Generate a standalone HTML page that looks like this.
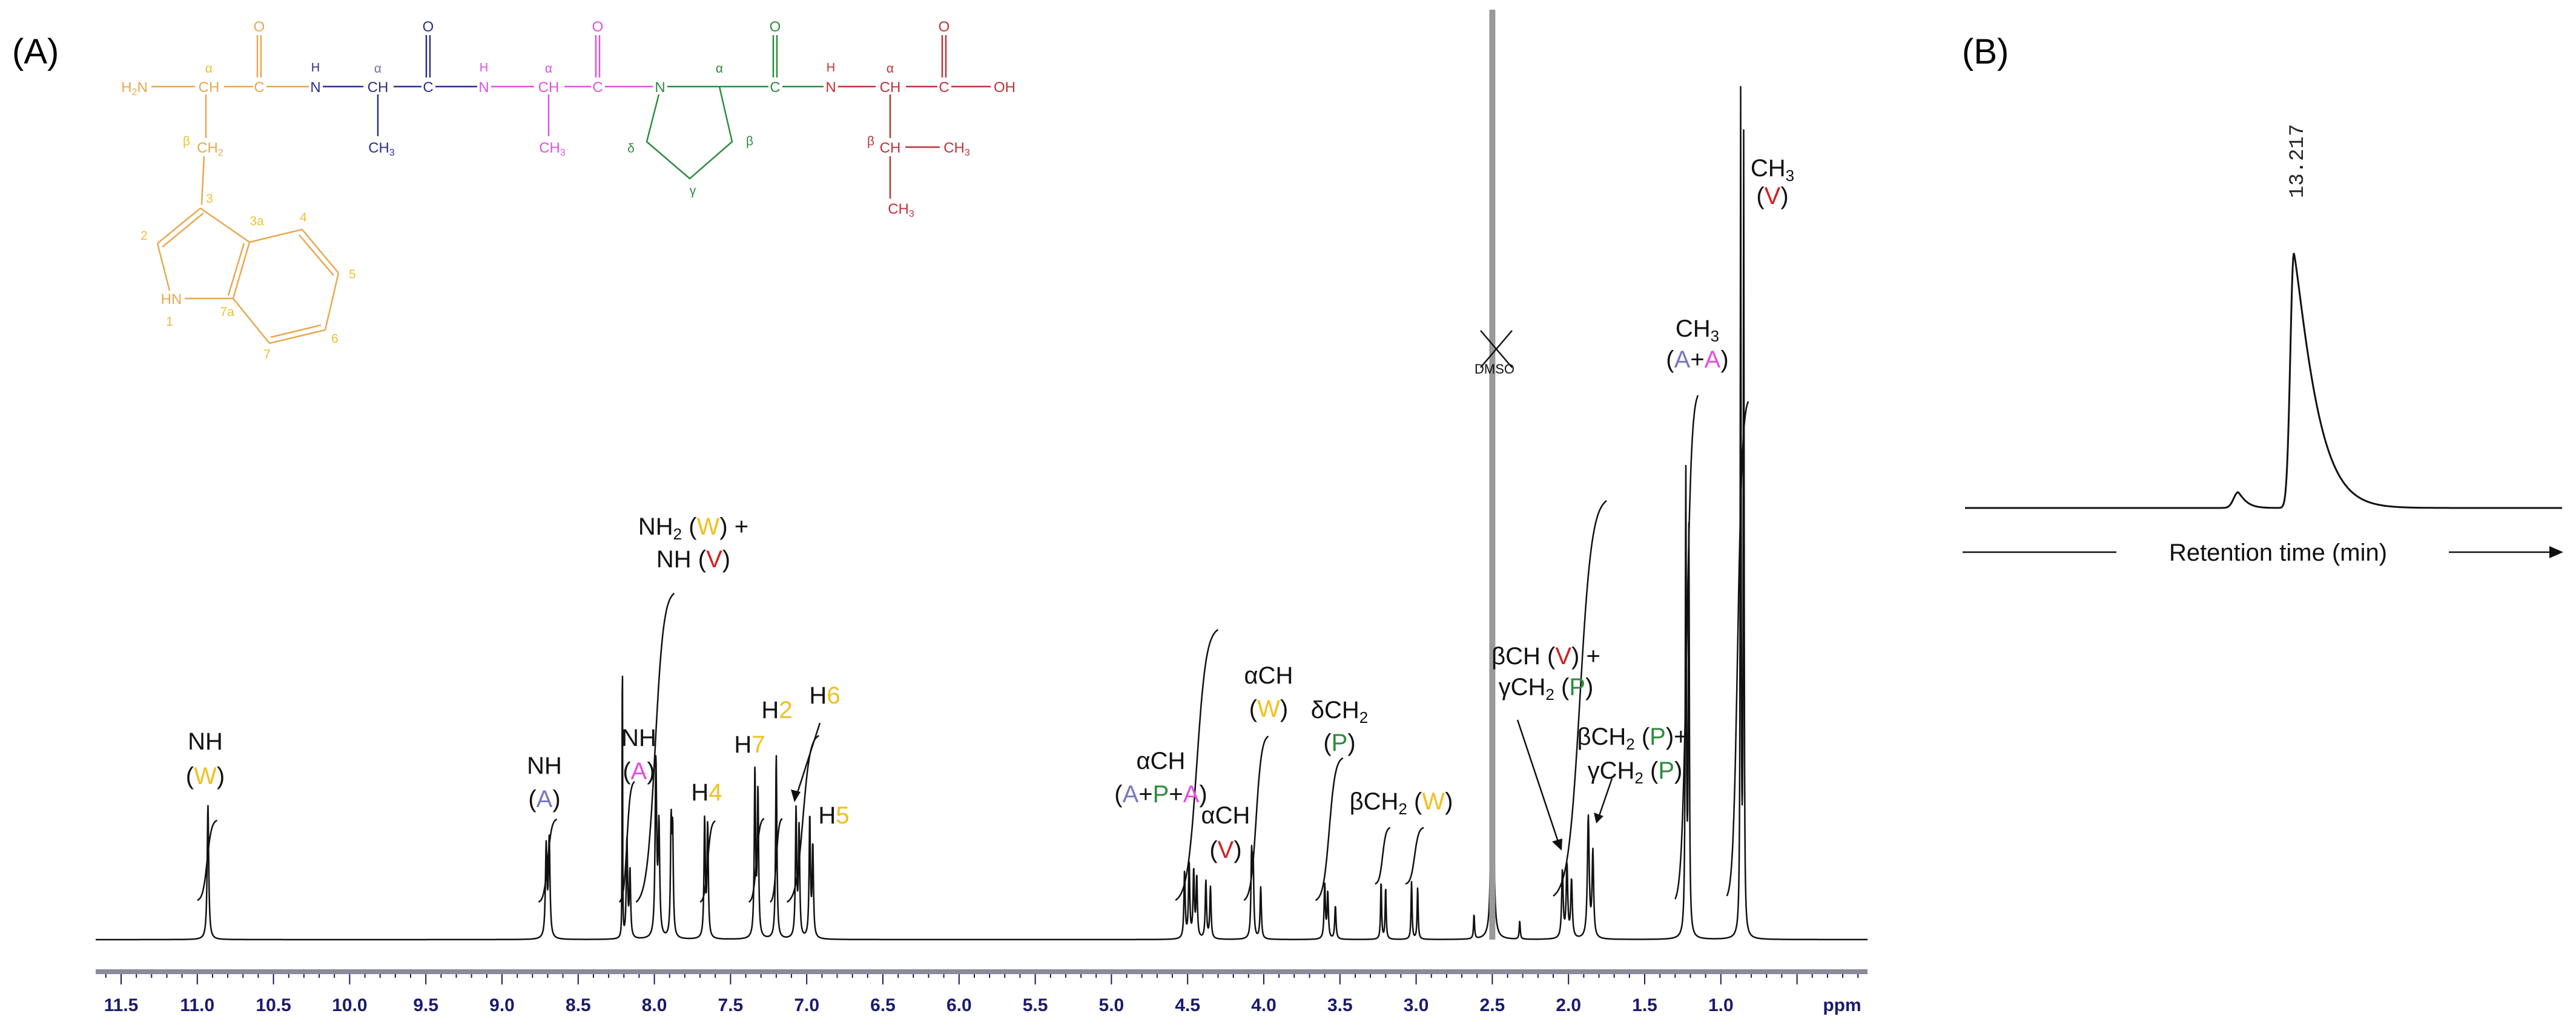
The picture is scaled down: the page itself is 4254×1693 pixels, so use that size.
<!DOCTYPE html>
<html><head><meta charset="utf-8"><style>
html,body{margin:0;padding:0;background:#fff;}
svg{display:block;font-family:"Liberation Sans",sans-serif;}
</style></head><body>
<svg id="fig" width="4254" height="1693" viewBox="0 0 4254 1693" xmlns="http://www.w3.org/2000/svg">
<rect width="4254" height="1693" fill="#fff"/>
<text x="20" y="105" font-size="58">(A)</text>
<text x="3240" y="105" font-size="58">(B)</text>

<g id="structure" font-size="24" stroke-width="2.5" text-anchor="middle">
  <g fill="none">
    <line x1="250" y1="143" x2="322" y2="143" stroke="#E8A850"/>
    <line x1="370" y1="143" x2="418" y2="143" stroke="#E8A850"/>
    <line x1="440" y1="143" x2="510" y2="143" stroke="#E8A850"/>
    <line x1="533" y1="143" x2="600" y2="143" stroke="#2B2F8C"/>
    <line x1="650" y1="143" x2="696" y2="143" stroke="#2B2F8C"/>
    <line x1="719" y1="143" x2="788" y2="143" stroke="#2B2F8C"/>
    <line x1="811" y1="143" x2="882" y2="143" stroke="#E050E0"/>
    <line x1="932" y1="143" x2="976" y2="143" stroke="#E050E0"/>
    <line x1="999" y1="143" x2="1078" y2="143" stroke="#E050E0"/>
    <line x1="1102" y1="143" x2="1269" y2="143" stroke="#2E8B3E"/>
    <line x1="1292" y1="143" x2="1360" y2="143" stroke="#2E8B3E"/>
    <line x1="1384" y1="143" x2="1446" y2="143" stroke="#C0303A"/>
    <line x1="1496" y1="143" x2="1548" y2="143" stroke="#C0303A"/>
    <line x1="1571" y1="143" x2="1636" y2="143" stroke="#C0303A"/>
    <g stroke="#E8A850"><line x1="425" y1="58" x2="425" y2="128"/><line x1="431" y1="58" x2="431" y2="128"/></g>
    <g stroke="#2B2F8C"><line x1="704" y1="58" x2="704" y2="128"/><line x1="710" y1="58" x2="710" y2="128"/></g>
    <g stroke="#E050E0"><line x1="984" y1="58" x2="984" y2="128"/><line x1="990" y1="58" x2="990" y2="128"/></g>
    <g stroke="#2E8B3E"><line x1="1277" y1="58" x2="1277" y2="128"/><line x1="1283" y1="58" x2="1283" y2="128"/></g>
    <g stroke="#C0303A"><line x1="1556" y1="58" x2="1556" y2="128"/><line x1="1562" y1="58" x2="1562" y2="128"/></g>
    <line x1="624" y1="156" x2="624" y2="225" stroke="#2B2F8C"/>
    <line x1="906" y1="156" x2="906" y2="225" stroke="#E050E0"/>
    <line x1="1470" y1="156" x2="1470" y2="228" stroke="#C0303A"/>
    <line x1="1495" y1="243" x2="1552" y2="243" stroke="#C0303A"/>
    <line x1="1470" y1="258" x2="1470" y2="328" stroke="#C0303A"/>
    <line x1="340" y1="156" x2="340" y2="228" stroke="#E8A850"/>
    <line x1="337" y1="258" x2="333" y2="338" stroke="#E8A850"/>
    <polyline points="1088,156 1068,234 1139,295 1209,234 1188,143" stroke="#2E8B3E"/>
    <g stroke="#E8A850">
      <line x1="331" y1="344" x2="260" y2="402"/><line x1="336" y1="352" x2="268" y2="408"/>
      <line x1="260" y1="402" x2="280" y2="480"/>
      <line x1="305" y1="493" x2="385" y2="493"/>
      <line x1="385" y1="493" x2="412" y2="400"/><line x1="377" y1="488" x2="403" y2="402"/>
      <line x1="412" y1="400" x2="331" y2="344"/>
      <line x1="412" y1="400" x2="499" y2="379"/>
      <line x1="499" y1="379" x2="559" y2="451"/><line x1="494" y1="388" x2="551" y2="455"/>
      <line x1="559" y1="451" x2="537" y2="545"/>
      <line x1="537" y1="545" x2="445" y2="567"/><line x1="530" y1="537" x2="447" y2="557"/>
      <line x1="445" y1="567" x2="385" y2="493"/>
    </g>
  </g>
  <g stroke="none">
    <g fill="#E8A850"><text x="222" y="152">H<tspan font-size="16" dy="5">2</tspan><tspan dy="-5">N</tspan></text><text x="345" y="152">CH</text><text x="428" y="152">C</text><text x="428" y="52">O</text><text x="347" y="252">CH<tspan font-size="16" dy="5">2</tspan></text></g>
    <g fill="#F0C030" font-size="21"><text x="345" y="120">α</text><text x="308" y="240">β</text><text x="346" y="335">3</text><text x="424" y="372">3a</text><text x="501" y="366">4</text><text x="238" y="396">2</text><text x="582" y="460">5</text><text x="280" y="538">1</text><text x="375" y="522">7a</text><text x="553" y="566">6</text><text x="441" y="592">7</text></g>
    <text x="283" y="502" fill="#E8A850">HN</text>
    <g fill="#2B2F8C"><text x="521" y="152">N</text><text x="521" y="118" font-size="20">H</text><text x="624" y="152">CH</text><text x="707" y="152">C</text><text x="707" y="52">O</text><text x="630" y="252">CH<tspan font-size="16" dy="5">3</tspan></text></g>
    <text x="624" y="120" font-size="21" fill="#7070B0">α</text>
    <g fill="#E050E0"><text x="799" y="152">N</text><text x="799" y="118" font-size="20">H</text><text x="906" y="152">CH</text><text x="987" y="152">C</text><text x="987" y="52">O</text><text x="912" y="252">CH<tspan font-size="16" dy="5">3</tspan></text><text x="906" y="120" font-size="21">α</text></g>
    <g fill="#2E8B3E"><text x="1090" y="152">N</text><text x="1280" y="152">C</text><text x="1280" y="52">O</text><text x="1188" y="120" font-size="21">α</text><text x="1042" y="252" font-size="21">δ</text><text x="1144" y="322" font-size="21">γ</text><text x="1238" y="240" font-size="21">β</text></g>
    <g fill="#C0303A"><text x="1372" y="152">N</text><text x="1372" y="118" font-size="20">H</text><text x="1470" y="152">CH</text><text x="1559" y="152">C</text><text x="1559" y="52">O</text><text x="1659" y="152">OH</text><text x="1470" y="120" font-size="21">α</text><text x="1438" y="240" font-size="21">β</text><text x="1470" y="252">CH</text><text x="1580" y="252">CH<tspan font-size="16" dy="5">3</tspan></text><text x="1488" y="353">CH<tspan font-size="16" dy="5">3</tspan></text></g>
  </g>
</g>

<g id="axis"></g>
<g id="spectrum"></g>
<g id="integrals"></g>

<g id="labels" font-size="40" text-anchor="middle" fill="#111">
  <text x="339" y="1238">NH</text>
  <text x="339" y="1295">(<tspan fill="#F0C020">W</tspan>)</text>
  <text x="899" y="1278">NH</text>
  <text x="899" y="1333">(<tspan fill="#7878C0">A</tspan>)</text>
  <text x="1055" y="1232">NH</text>
  <text x="1055" y="1287">(<tspan fill="#E050E0">A</tspan>)</text>
  <text x="1145" y="883">NH<tspan font-size="26" dy="8">2</tspan><tspan dy="-8"> (</tspan><tspan fill="#F0C020">W</tspan>) +</text>
  <text x="1145" y="937">NH (<tspan fill="#D02020">V</tspan>)</text>
  <text x="1167" y="1322">H<tspan fill="#F0C020">4</tspan></text>
  <text x="1238" y="1243">H<tspan fill="#F0C020">7</tspan></text>
  <text x="1283" y="1186">H<tspan fill="#F0C020">2</tspan></text>
  <text x="1362" y="1162">H<tspan fill="#F0C020">6</tspan></text>
  <text x="1377" y="1360">H<tspan fill="#F0C020">5</tspan></text>
  <text x="1917" y="1270">αCH</text>
  <text x="1917" y="1325">(<tspan fill="#7878C0">A</tspan>+<tspan fill="#2E8B3E">P</tspan>+<tspan fill="#E050E0">A</tspan>)</text>
  <text x="2024" y="1360">αCH</text>
  <text x="2024" y="1417">(<tspan fill="#D02020">V</tspan>)</text>
  <text x="2095" y="1129">αCH</text>
  <text x="2095" y="1184">(<tspan fill="#F0C020">W</tspan>)</text>
  <text x="2212" y="1186">δCH<tspan font-size="26" dy="8">2</tspan></text>
  <text x="2212" y="1240">(<tspan fill="#2E8B3E">P</tspan>)</text>
  <text x="2314" y="1337">βCH<tspan font-size="26" dy="8">2</tspan><tspan dy="-8"> (</tspan><tspan fill="#F0C020">W</tspan>)</text>
  <text x="2553" y="1097">βCH (<tspan fill="#D02020">V</tspan>) +</text>
  <text x="2553" y="1148">γCH<tspan font-size="26" dy="8">2</tspan><tspan dy="-8"> (</tspan><tspan fill="#2E8B3E">P</tspan>)</text>
  <text x="2696" y="1230">βCH<tspan font-size="26" dy="8">2</tspan><tspan dy="-8"> (</tspan><tspan fill="#2E8B3E">P</tspan>)+</text>
  <text x="2700" y="1286">γCH<tspan font-size="26" dy="8">2</tspan><tspan dy="-8"> (</tspan><tspan fill="#2E8B3E">P</tspan>)</text>
  <text x="2803" y="556">CH<tspan font-size="26" dy="8">3</tspan></text>
  <text x="2803" y="607">(<tspan fill="#7878C0">A</tspan>+<tspan fill="#E050E0">A</tspan>)</text>
  <text x="2927" y="291">CH<tspan font-size="26" dy="8">3</tspan></text>
  <text x="2927" y="337">(<tspan fill="#D02020">V</tspan>)</text>
  <text x="2468" y="617" font-size="22">DMSO</text>
  <g stroke="#111" stroke-width="2.5" fill="none">
    <line x1="2445" y1="546" x2="2497" y2="607"/><line x1="2497" y1="546" x2="2445" y2="607"/>
    <line x1="1354" y1="1194" x2="1316" y2="1312"/>
    <line x1="2506" y1="1189" x2="2574" y2="1393"/>
    <line x1="2662" y1="1286" x2="2641" y2="1347"/>
  </g>
  <polygon points="1312,1325 1306,1304 1322,1308" fill="#111"/>
  <polygon points="2579,1405 2563,1390 2580,1385" fill="#111"/>
  <polygon points="2636,1360 2632,1342 2648,1348" fill="#111"/>
</g>

<g id="chrom"></g>
<text transform="translate(3803,266) rotate(-90)" font-family="Liberation Mono,monospace" font-size="34" text-anchor="middle" fill="#222">13.217</text>
<g>
  <line x1="3241" y1="912" x2="3495" y2="912" stroke="#111" stroke-width="2.5"/>
  <text x="3762" y="926" font-size="40" text-anchor="middle" fill="#111">Retention time (min)</text>
  <line x1="4044" y1="912" x2="4215" y2="912" stroke="#111" stroke-width="2.5"/>
  <polygon points="4233,912 4210,902 4210,922" fill="#111"/>
</g>
</svg>

<script>
// NMR peak data (ppm, peak height above baseline, half-width ppm)
const peakPpm    = [10.93, 8.71, 8.69, 8.21, 8.18, 8.16, 7.99, 7.97, 7.89, 7.88, 7.67, 7.65, 7.34, 7.32, 7.20, 7.07, 7.05, 6.98, 6.96, 4.52, 4.49, 4.46, 4.44, 4.38, 4.35, 4.08, 4.07, 4.02, 3.60, 3.58, 3.53, 3.23, 3.20, 3.03, 2.99, 2.62, 2.50, 2.32, 2.04, 2.01, 1.98, 1.87, 1.84, 1.23, 1.21, 0.87, 0.85];
const peakHeight = [222, 150, 160, 596, 165, 110, 290, 180, 180, 165, 195, 185, 275, 240, 305, 210, 180, 200, 150, 110, 125, 110, 100, 95, 85, 130, 120, 85, 90, 75, 55, 95, 85, 95, 85, 40, 1536, 30, 110, 120, 95, 200, 140, 760, 660, 1380, 1310];
const peakWidth  = [0.006, 0.006, 0.006, 0.0015, 0.005, 0.005, 0.006, 0.006, 0.005, 0.005, 0.005, 0.005, 0.005, 0.005, 0.005, 0.005, 0.005, 0.005, 0.005, 0.005, 0.005, 0.005, 0.005, 0.005, 0.005, 0.005, 0.005, 0.005, 0.005, 0.005, 0.005, 0.004, 0.004, 0.004, 0.004, 0.004, 0.004, 0.004, 0.006, 0.006, 0.006, 0.007, 0.006, 0.004, 0.004, 0.003, 0.003];
// Integral curves (start ppm, end ppm, low level, high level)
const intStart = [11.00, 8.76, 8.23, 8.12, 7.70, 7.38, 7.24, 7.13, 4.58, 4.13, 3.66, 3.27, 3.07, 2.10, 1.30, 0.96];
const intEnd   = [10.87, 8.64, 8.13, 7.87, 7.60, 7.28, 7.16, 6.92, 4.30, 3.97, 3.48, 3.17, 2.95, 1.75, 1.15, 0.82];
const intLow   = [65, 62, 62, 62, 62, 62, 62, 62, 65, 65, 65, 92, 92, 72, 67, 72];
const intHigh  = [197, 199, 261, 572, 196, 200, 200, 337, 512, 336, 300, 185, 185, 725, 899, 889];
// Axis ticks
const tickLabels = ["11.5","11.0","10.5","10.0","9.5","9.0","8.5","8.0","7.5","7.0","6.5","6.0","5.5","5.0","4.5","4.0","3.5","3.0","2.5","2.0","1.5","1.0"];
// Chromatogram peaks
const chromCenter = [11.35, 13.217];
const chromHeight = [26, 421];
const chromRise   = [0.15, 0.12];
const chromTail   = [0.3, 0.83];

const NS = "http://www.w3.org/2000/svg";
const X0 = 200, PPX = 251.6, BASE = 1552;
const xs = p => X0 + (11.5 - p) * PPX;
const ys = v => BASE - v;
function mk(tag, attrs, parent){ const e=document.createElementNS(NS,tag); for(const k in attrs) e.setAttribute(k,attrs[k]); parent.appendChild(e); return e; }

const ax = document.getElementById('axis');
mk('rect',{x:158,y:1601,width:2926,height:8,fill:'#8a8a9a'},ax);
let td = "";
for (let i=0;i<=120;i++){ const p = 11.8 - i*0.1; const x = xs(p); if (x<160||x>3084) continue;
  const major = Math.abs(Math.round(p*2)/2 - p) < 1e-6;
  td += "M"+x.toFixed(1)+",1609V"+(major?1626:1615); }
mk('path',{d:td,stroke:'#1a1a5e','stroke-width':2,fill:'none'},ax);
tickLabels.forEach(t=>{
  const el = mk('text',{x:xs(parseFloat(t)),y:1670,'font-size':30,'font-weight':'bold','text-anchor':'middle',fill:'#1a1a6e','font-family':'"Liberation Sans Narrow","Liberation Sans",sans-serif'},ax);
  
  
  el.textContent = t;
});
const ppmT = mk('text',{x:3042,y:1670,'font-size':30,'font-weight':'bold','text-anchor':'middle',fill:'#1a1a6e','font-family':'"Liberation Sans Narrow","Liberation Sans",sans-serif'},ax);


ppmT.textContent = "ppm";

const sp = document.getElementById('spectrum');
let d = "";
const x1 = 158, x2 = 3084;
for (let x=x1; x<=x2; x+=0.5){
  const p = 11.5 - (x - X0)/PPX;
  let v = 0;
  for (let i=0;i<peakPpm.length;i++){ const g=peakWidth[i]; const dp=p-peakPpm[i]; v += peakHeight[i]*g*g/(dp*dp+g*g); }
  d += (x===x1?"M":"L") + x.toFixed(1) + "," + ys(v).toFixed(1);
}
const sPath = mk('path',{d:d,stroke:'#111','stroke-width':2.5,fill:'none','stroke-linejoin':'round'},sp);


const dm = peakPpm.indexOf(2.50);
const dms = mk('rect',{x:xs(2.50)-5,y:ys(peakHeight[dm]),width:10,height:peakHeight[dm],fill:'#999'},sp);



const ig = document.getElementById('integrals');
for (let i=0;i<intStart.length;i++){
  let dd = "";
  const n = 40;
  const s0 = 1/(1+Math.exp(4.5)), s1 = 1/(1+Math.exp(-4.5));
  for (let k=0;k<=n;k++){
    const t = k/n;
    const p = intStart[i] + (intEnd[i]-intStart[i])*t;
    const s = 1/(1+Math.exp(-(t-0.5)*9));
    const v = intLow[i] + (intHigh[i]-intLow[i])*(s-s0)/(s1-s0);
    dd += (k?"L":"M") + xs(p).toFixed(1) + "," + ys(v).toFixed(1);
  }
  const el = mk('path',{d:dd,stroke:'#111','stroke-width':2.5,fill:'none'},ig);
  
  
}

const ch = document.getElementById('chrom');
const T0 = 2.2, TPX = 49.3, CB = 839;
let cd = "";
for (let x=3245; x<=4231; x+=1){
  const t = T0 + (x-3245)/TPX;
  let v = 0;
  for (let i=0;i<chromCenter.length;i++){
    const dt = t - chromCenter[i];
    if (dt < 0) v += chromHeight[i]*Math.exp(-dt*dt/(2*chromRise[i]*chromRise[i]));
    else v += chromHeight[i]*Math.exp(-Math.pow(dt/chromTail[i],1.2));
  }
  cd += (x===3245?"M":"L") + x + "," + (CB - v).toFixed(1);
}
const cp = mk('path',{d:cd,stroke:'#111','stroke-width':3,fill:'none'},ch);


</script>
</body></html>
